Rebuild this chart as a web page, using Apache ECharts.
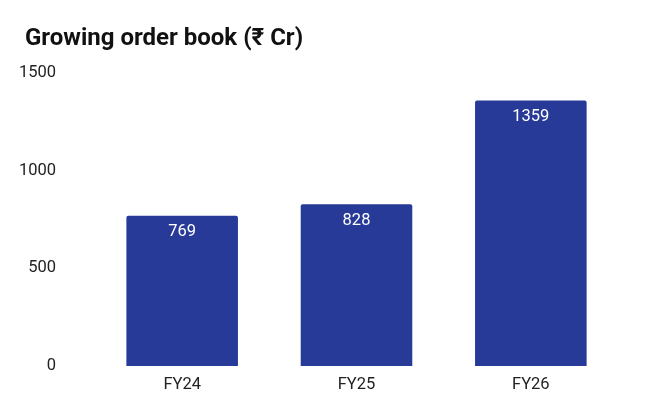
<!DOCTYPE html>
<html>
<head>
<meta charset="utf-8">
<script src="https://cdn.jsdelivr.net/npm/echarts@6/dist/echarts.min.js"></script>
<style>
  html, body { margin: 0; padding: 0; background: #fff; }
  #chart { width: 669px; height: 414px; }
</style>
</head>
<body>
<div id="chart"></div>
<script>
// 訂單量(₹ Cr)
const categories = ['FY24', 'FY25', 'FY26'];
const orderBook = [769, 828, 1359];
const yTicks = { min: 0, max: 1500, interval: 500 };

const chart = echarts.init(document.getElementById('chart'), null, { renderer: 'canvas' });
chart.setOption({
  animation: false,
  textStyle: { fontFamily: 'Roboto' },
  title: {
    text: 'Growing order book (₹ Cr)',
    left: 20,
    top: 22,
    textStyle: { fontFamily: 'Roboto', fontWeight: 'bold', fontSize: 24, color: '#111' },
  },
  grid: { left: 95, right: 51, top: 73, bottom: 48, containLabel: false },
  xAxis: {
    type: 'category',
    data: categories,
    axisLine: { show: false },
    axisTick: { show: false },
    axisLabel: { color: '#222', fontSize: 16.5, margin: 10 },
  },
  yAxis: {
    type: 'value',
    min: yTicks.min,
    max: yTicks.max,
    interval: yTicks.interval,
    splitLine: { show: false },
    axisLine: { show: false },
    axisTick: { show: false },
    axisLabel: { color: '#222', fontSize: 16.5, margin: 39, formatter: (v) => String(v) },
  },
  series: [{
    type: 'bar',
    data: orderBook,
    barCategoryGap: '36%',
    itemStyle: { color: '#283a97', borderRadius: [2, 2, 0, 0] },
    label: {
      show: true,
      position: 'insideTop',
      distance: 8,
      color: '#fff',
      fontSize: 16.5,
    },
  }],
});
</script>
</body>
</html>
